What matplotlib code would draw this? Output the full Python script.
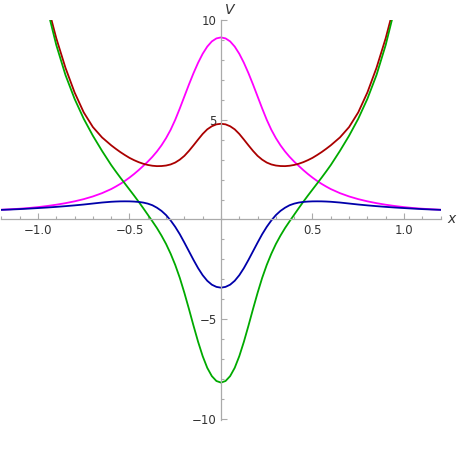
import numpy as np
import matplotlib.pyplot as plt
from matplotlib.ticker import MultipleLocator, FixedLocator

# values (the curves are symmetric in x)
x_half = [0.0, 0.025, 0.05, 0.075, 0.1, 0.125, 0.15, 0.175, 0.2, 0.225, 0.25,
          0.275, 0.3, 0.325, 0.35, 0.375, 0.4, 0.425, 0.45, 0.475, 0.5,
          0.525, 0.55, 0.575, 0.6, 0.65, 0.7, 0.75, 0.8, 0.85, 0.9, 0.95, 1.0,
          1.05, 1.1, 1.15, 1.2]
magenta_half = [9.13, 9.08, 8.93, 8.67, 8.31, 7.86, 7.34, 6.77, 6.17, 5.57, 5.00,
                4.50, 4.08, 3.72, 3.41, 3.14, 2.90, 2.685, 2.475, 2.28, 2.10,
                1.935, 1.785, 1.65, 1.525, 1.32, 1.155, 1.02, 0.91, 0.818, 0.74, 0.675, 0.62,
                0.575, 0.54, 0.512, 0.49]
blue_half = [-3.42, -3.38, -3.27, -3.075, -2.795, -2.44, -2.03, -1.595, -1.16, -0.74, -0.37,
             -0.05, 0.22, 0.43, 0.59, 0.715, 0.795, 0.848, 0.88, 0.898, 0.908,
             0.91, 0.908, 0.90, 0.888, 0.85, 0.80, 0.75, 0.707, 0.668, 0.632, 0.60, 0.572,
             0.545, 0.52, 0.50, 0.482]
# red and green leave the frame near |x| = 0.93, so they stop at 1.0
red_half = [4.80, 4.77, 4.675, 4.52, 4.29, 4.01, 3.72, 3.44, 3.19, 3.00, 2.855,
            2.76, 2.705, 2.68, 2.675, 2.695, 2.735, 2.795, 2.875, 2.975, 3.09,
            3.23, 3.38, 3.545, 3.72, 4.115, 4.635, 5.37, 6.37, 7.61, 9.09, 10.84, 12.9]
green_half = [-8.18, -8.10, -7.855, -7.44, -6.855, -6.135, -5.33, -4.49, -3.68, -2.93, -2.28,
              -1.72, -1.23, -0.81, -0.43, -0.09, 0.24, 0.57, 0.89, 1.20, 1.50,
              1.80, 2.10, 2.41, 2.73, 3.44, 4.20, 5.05, 6.05, 7.25, 8.75, 10.6, 12.8]


def mirror(xs, ys):
    xs = np.array(xs)
    ys = np.array(ys)
    return np.concatenate([-xs[::-1], xs[1:]]), np.concatenate([ys[::-1], ys[1:]])


fig = plt.figure(figsize=(4.58, 4.58), dpi=100)
ax = fig.add_axes([0.003, 0.0832, 0.959, 0.873])

lw = 1.3
xs, ys = mirror(x_half, magenta_half)
ax.plot(xs, ys, color='#ff00ff', lw=lw)
xs, ys = mirror(x_half[:len(red_half)], red_half)
ax.plot(xs, ys, color='#aa0000', lw=lw)
xs, ys = mirror(x_half[:len(green_half)], green_half)
ax.plot(xs, ys, color='#00aa00', lw=lw)
xs, ys = mirror(x_half, blue_half)
ax.plot(xs, ys, color='#0000aa', lw=lw)

ax.set_xlim(-1.2, 1.2)
ax.set_ylim(-10.05, 10)

for s in ['top', 'right']:
    ax.spines[s].set_visible(False)
ax.spines['left'].set_position(('data', 0))
ax.spines['bottom'].set_position(('data', 0))
for s in ['left', 'bottom']:
    ax.spines[s].set_color('#aaaaaa')
    ax.spines[s].set_linewidth(0.9)

ax.xaxis.set_major_locator(FixedLocator([-1.0, -0.5, 0.5, 1.0]))
ax.xaxis.set_minor_locator(MultipleLocator(0.1))
ax.yaxis.set_major_locator(FixedLocator([-10, -5, 5, 10]))
ax.yaxis.set_minor_locator(MultipleLocator(1))
ax.set_xticklabels(['\u22121.0', '\u22120.5', '0.5', '1.0'])
ax.set_yticklabels(['\u221210', '\u22125', '5', '10'])
ax.tick_params(which='both', direction='in', color='#aaaaaa', labelcolor='#333333',
               labelsize=8.5, width=0.8)
ax.tick_params(which='major', length=4, pad=3)
ax.tick_params(which='minor', length=2.3)

ax.text(1.235, 0, 'x', style='italic', fontsize=10, color='#333333',
        ha='left', va='center', clip_on=False)
ax.text(0.02, 10.15, 'V', style='italic', fontsize=10, color='#333333',
        ha='left', va='bottom', clip_on=False)

fig.savefig('out.png', dpi=100)
